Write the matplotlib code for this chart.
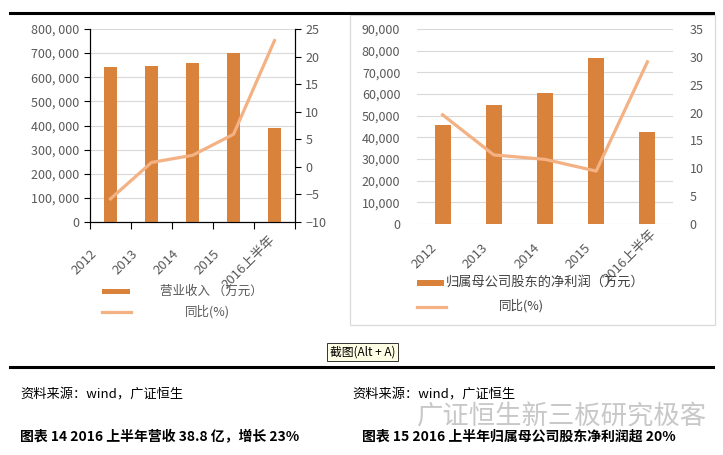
import matplotlib
matplotlib.use('Agg')
import matplotlib.pyplot as plt
from matplotlib.patches import Rectangle
from matplotlib.lines import Line2D
import matplotlib.ticker as ticker
import matplotlib.transforms as mtransforms

# data
categories = ['2012', '2013', '2014', '2015', '2016上半年']
revenue = [642000, 647000, 659000, 702000, 388000]          # 营业收入 (万元)
revenue_yoy = [-5.8, 0.8, 2.1, 5.9, 22.9]                   # 同比 (%)
profit = [45800, 55000, 60600, 76700, 42600]                # 归属母公司股东的净利润 (万元)
profit_yoy = [19.6, 12.4, 11.6, 9.5, 29.1]                  # 同比 (%)

bar_color = '#D9823C'
line_color = '#F4B183'
grid_color = '#D9D9D9'
label_color = '#595959'

plt.rcParams['font.family'] = ['Noto Sans CJK SC', 'DejaVu Sans']

W, H = 723, 455
fig = plt.figure(figsize=(W / 100, H / 100), dpi=100, facecolor='white')


def box(x0, y0, x1, y1):
    # pixel box (top-left origin) -> figure fraction rect
    return [x0 / W, 1 - y1 / H, (x1 - x0) / W, (y1 - y0) / H]


def excel_labels(ax, dx_px, dy_px):
    # rotated category labels centred on a point shifted left/down of the tick, like Excel
    ax.set_xticklabels(categories, rotation=45, ha='center', va='center', rotation_mode='anchor',
                       fontsize=9.5, color=label_color)
    ax.tick_params(axis='x', which='major', length=0, pad=dy_px * 0.72)
    shift = mtransforms.ScaledTranslation(dx_px / 100, 0, fig.dpi_scale_trans)
    for lbl in ax.get_xticklabels():
        lbl.set_transform(lbl.get_transform() + shift)


x = list(range(len(categories)))

# ---------- left chart ----------
ax1 = fig.add_axes(box(90, 29, 295, 222))
ax1.bar(x, revenue, width=0.32, color=bar_color, zorder=3)
ax1.set_xlim(-0.5, 4.5)
ax1.set_ylim(0, 800000)
ax1.yaxis.set_major_locator(ticker.MultipleLocator(100000))
ax1.yaxis.set_major_formatter(ticker.FuncFormatter(lambda v, p: '{:,}'.format(int(v)).replace(',', ', ')))
ax1.grid(axis='y', color=grid_color, linewidth=0.8, zorder=0)
ax1.set_xticks(x)
excel_labels(ax1, -26, 40)
ax1.set_xticks([i - 0.5 for i in range(len(categories) + 1)], minor=True)
ax1.tick_params(axis='x', which='minor', length=5, direction='out', width=0.8)
ax1.tick_params(axis='y', length=4, width=0.8, labelsize=9, labelcolor=label_color)
ax1.spines['top'].set_visible(False)
for s in ['left', 'right', 'bottom']:
    ax1.spines[s].set_linewidth(0.8)

ax1b = ax1.twinx()
ax1b.plot(x, revenue_yoy, color=line_color, linewidth=2.3, zorder=4)
ax1b.set_ylim(-10, 25)
ax1b.yaxis.set_major_locator(ticker.MultipleLocator(5))
ax1b.tick_params(axis='y', length=4, width=0.8, labelsize=9, labelcolor=label_color)
ax1b.spines['top'].set_visible(False)
ax1b.spines['right'].set_linewidth(0.8)

# ---------- right chart ----------
ax2 = fig.add_axes(box(417, 29, 673, 224))
ax2.bar(x, profit, width=0.31, color=bar_color, zorder=3)
ax2.set_xlim(-0.5, 4.5)
ax2.set_ylim(0, 90000)
ax2.yaxis.set_major_locator(ticker.MultipleLocator(10000))
ax2.yaxis.set_major_formatter(ticker.FuncFormatter(lambda v, p: '{:,}'.format(int(v))))
ax2.grid(axis='y', color=grid_color, linewidth=0.8, zorder=0)
ax2.set_xticks(x)
excel_labels(ax2, -18, 32)
ax2.tick_params(axis='y', length=0, pad=12, labelsize=9, labelcolor=label_color)
for s in ax2.spines.values():
    s.set_visible(False)

ax2b = ax2.twinx()
ax2b.plot(x, profit_yoy, color=line_color, linewidth=2.3, zorder=4)
ax2b.set_ylim(0, 35)
ax2b.yaxis.set_major_locator(ticker.MultipleLocator(5))
ax2b.tick_params(axis='y', length=0, pad=12, labelsize=9, labelcolor=label_color)
for s in ax2b.spines.values():
    s.set_visible(False)

# ---------- decorations (pixel coords) ----------
def fx(px):
    return px / W


def fy(py):
    return 1 - py / H


# thick rules
fig.add_artist(Line2D([fx(10), fx(713)], [fy(12.5), fy(12.5)], color='black', linewidth=2.2))
fig.add_artist(Line2D([fx(10), fx(713)], [fy(367), fy(367)], color='black', linewidth=2.2))

# frame around right chart
fig.add_artist(Rectangle((fx(350), fy(325)), fx(715) - fx(350), fy(15) - fy(325),
                         fill=False, edgecolor=grid_color, linewidth=0.9))

# left legend
fig.add_artist(Rectangle((fx(102), fy(294)), fx(130) - fx(102), fy(289) - fy(294),
                         color=bar_color, linewidth=0))
fig.text(fx(211), fy(291), '营业收入 （万元）', fontsize=9, color=label_color, ha='center', va='center')
fig.add_artist(Line2D([fx(102), fx(131)], [fy(312), fy(312)], color=line_color, linewidth=2.3))
fig.text(fx(207), fy(312), '同比(%)', fontsize=9, color=label_color, ha='center', va='center')

# right legend
fig.add_artist(Rectangle((fx(417), fy(285.5)), fx(444) - fx(417), fy(279.5) - fy(285.5),
                         color=bar_color, linewidth=0))
fig.text(fx(446), fy(282), '归属母公司股东的净利润（万元）', fontsize=9.5, color='#404040',
         ha='left', va='center')
fig.add_artist(Line2D([fx(417), fx(446)], [fy(307), fy(307)], color=line_color, linewidth=2.3))
fig.text(fx(521), fy(306), '同比(%)', fontsize=9, color='#404040', ha='center', va='center')

# screenshot hint box
fig.text(fx(362.5), fy(352), '截图(Alt + A)', fontsize=8.5, color='black', ha='center', va='center',
         bbox=dict(boxstyle='square,pad=0.25', facecolor='#FFFFE6', edgecolor='#333333', linewidth=0.7))

# source lines
fig.text(fx(20), fy(395), '资料来源：wind，广证恒生', fontsize=9.5, color='black', ha='left', va='center')
fig.text(fx(352), fy(395), '资料来源：wind，广证恒生', fontsize=9.5, color='black', ha='left', va='center')

# watermark
fig.text(fx(562), fy(417), '广证恒生新三板研究极客', fontsize=19, color='#C8C8C8', ha='center', va='center')

# captions
fig.text(fx(20), fy(437), '图表 14 2016 上半年营收 38.8 亿，增长 23%', fontsize=10, fontweight='bold',
         color='black', ha='left', va='center')
fig.text(fx(362), fy(437), '图表 15 2016 上半年归属母公司股东净利润超 20%', fontsize=10, fontweight='bold',
         color='black', ha='left', va='center')

fig.savefig('out.png', dpi=100, facecolor='white')
